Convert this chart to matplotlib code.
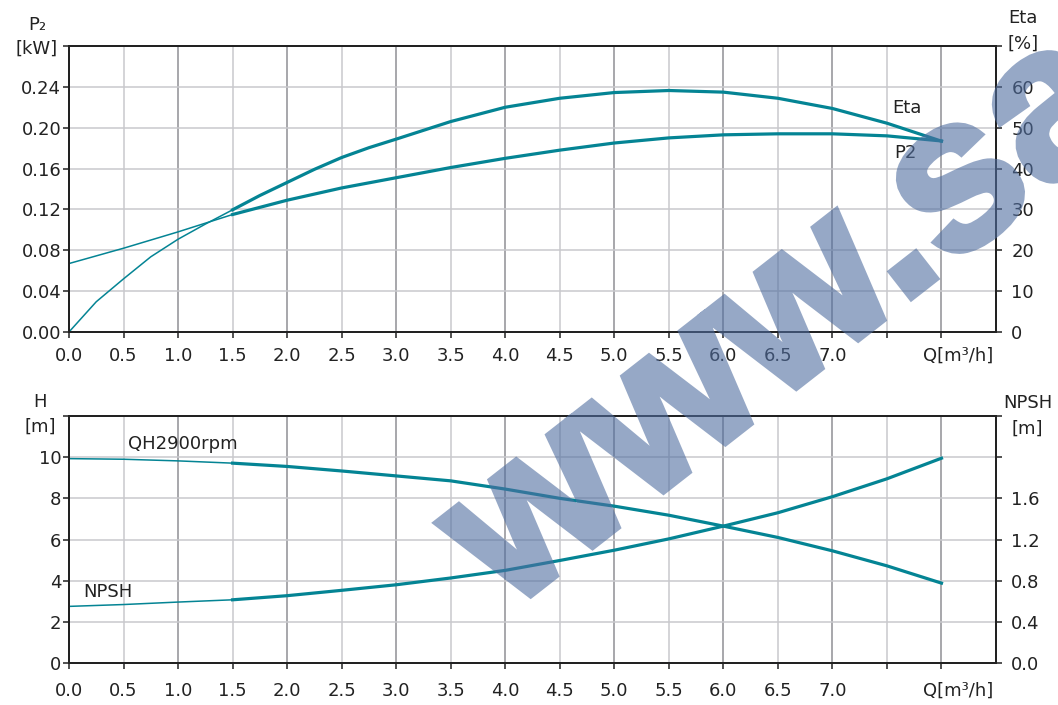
import numpy as np
import matplotlib.pyplot as plt
import matplotlib.patheffects as pe
import matplotlib.transforms as mtrans

plt.rcParams['font.family'] = ['DejaVu Sans']

# flow rate Q [m3/h]
q = [0.0, 0.5, 1.0, 1.5, 2.0, 2.5, 3.0, 3.5, 4.0, 4.5, 5.0, 5.5, 6.0, 6.5, 7.0, 7.5, 8.0]
# power P2 [kW]
p2 = [0.067, 0.082, 0.098, 0.115, 0.129, 0.141, 0.151, 0.161, 0.170, 0.178, 0.185, 0.190, 0.193, 0.194, 0.194, 0.192, 0.187]
# efficiency [%]
q_eta = [0.0, 0.25, 0.5, 0.75, 1.0, 1.25, 1.5, 1.75, 2.0, 2.25, 2.5, 2.75, 3.0, 3.5, 4.0, 4.5, 5.0, 5.5, 6.0, 6.5, 7.0, 7.5, 8.0]
eta = [0.0, 7.4, 13.0, 18.4, 22.7, 26.4, 29.9, 33.4, 36.6, 39.8, 42.7, 45.1, 47.2, 51.5, 55.0, 57.2, 58.6, 59.1, 58.7, 57.2, 54.7, 51.1, 46.7]
# head H [m]
head = [9.93, 9.90, 9.82, 9.71, 9.55, 9.33, 9.09, 8.85, 8.45, 8.00, 7.62, 7.18, 6.65, 6.10, 5.45, 4.72, 3.88]
# NPSH [m]
npsh = [0.550, 0.568, 0.592, 0.614, 0.654, 0.706, 0.760, 0.826, 0.900, 0.996, 1.096, 1.206, 1.330, 1.460, 1.616, 1.790, 1.990]

x_ticks = np.arange(0, 8.01, 0.5)
x_labels = ['%.1f' % v for v in x_ticks[:15]] + ['', 'Q[m³/h]']

teal = '#048494'
light = '#c9c9cd'
dark = '#8f8f95'
ink = '#222222'
fs = 13

fig = plt.figure(figsize=(10.58, 7.05), dpi=100)
ax1 = fig.add_axes([0.0652, 0.5291, 0.8762, 0.4057])
ax2 = fig.add_axes([0.0652, 0.0596, 0.8762, 0.3503])


def base(ax, ymax, yticks, ylabels, xpad):
    ax.set_xlim(0, 8.5)
    ax.set_ylim(0, ymax)
    ax.set_xticks(x_ticks)
    ax.set_xticklabels(x_labels)
    ax.set_yticks(yticks)
    ax.set_yticklabels(ylabels)
    for v in x_ticks[1:]:
        ax.axvline(v, color=dark if v % 1 == 0 else light, lw=1.1, zorder=0)
    for v in yticks[1:-1]:
        ax.axhline(v, color=light, lw=1.1, zorder=0)
    ax.tick_params(axis='x', direction='out', length=4, width=1.1, color=ink,
                   labelsize=fs, labelcolor=ink, pad=xpad)
    ax.tick_params(axis='y', direction='out', length=4.5, width=1.1, color=ink,
                   labelsize=fs, labelcolor=ink, pad=1)
    for s in ax.spines.values():
        s.set_color(ink)
        s.set_linewidth(1.4)
    # the Q unit label sits a little right of its tick
    lab = ax.xaxis.get_major_ticks()[-1].label1
    lab.set_transform(lab.get_transform() + mtrans.ScaledTranslation(0.17, 0, fig.dpi_scale_trans))


def right_axis(ax, ymax, yticks, ylabels):
    r = ax.twinx()
    r.set_ylim(0, ymax)
    r.set_yticks(yticks)
    r.set_yticklabels(ylabels)
    r.tick_params(axis='y', direction='out', length=4.5, width=1.1, color=ink,
                  labelsize=fs, labelcolor=ink, pad=6.5)
    for s in r.spines.values():
        s.set_color(ink)
        s.set_linewidth(1.4)
    return r


# ---- top panel: P2 / Eta ----
base(ax1, 0.28, np.arange(0, 0.281, 0.04),
     ['%.2f' % v for v in np.arange(0, 0.241, 0.04)] + [''], 6.5)
ax1.plot(q[:4], p2[:4], color=teal, lw=1.1)
ax1.plot(q[3:], p2[3:], color=teal, lw=2.3)

ax1r = right_axis(ax1, 70, np.arange(0, 71, 10),
                  [str(v) for v in range(0, 61, 10)] + [''])
ax1r.plot(q_eta[:7], eta[:7], color=teal, lw=1.1)
ax1r.plot(q_eta[6:], eta[6:], color=teal, lw=2.3)

ax1.text(7.55, 0.2195, 'Eta', fontsize=fs, color=ink, va='center')
ax1.text(7.57, 0.175, 'P2', fontsize=fs, color=ink, va='center')
ax1.text(-0.0345, 1.073, 'P₂', transform=ax1.transAxes, fontsize=fs, color=ink, ha='center', va='center')
ax1.text(-0.0345, 0.99, '[kW]', transform=ax1.transAxes, fontsize=fs, color=ink, ha='center', va='center')
ax1.text(1.029, 1.098, 'Eta', transform=ax1.transAxes, fontsize=fs, color=ink, ha='center', va='center')
ax1.text(1.029, 1.007, '[%]', transform=ax1.transAxes, fontsize=fs, color=ink, ha='center', va='center')

# ---- bottom panel: H / NPSH ----
base(ax2, 12, np.arange(0, 12.1, 2),
     [str(v) for v in range(0, 11, 2)] + [''], 9.5)
ax2.plot(q[:4], head[:4], color=teal, lw=1.1)
ax2.plot(q[3:], head[3:], color=teal, lw=2.3)

ax2r = right_axis(ax2, 2.4, np.arange(0, 2.41, 0.4),
                  ['%.1f' % v for v in np.arange(0, 1.61, 0.4)] + ['', ''])
ax2r.plot(q[:4], npsh[:4], color=teal, lw=1.1)
ax2r.plot(q[3:], npsh[3:], color=teal, lw=2.3)

ax2.text(0.54, 10.63, 'QH2900rpm', fontsize=fs, color=ink, va='center')
ax2.text(0.13, 3.43, 'NPSH', fontsize=fs, color=ink, va='center')
ax2.text(-0.031, 1.058, 'H', transform=ax2.transAxes, fontsize=fs, color=ink, ha='center', va='center')
ax2.text(-0.031, 0.955, '[m]', transform=ax2.transAxes, fontsize=fs, color=ink, ha='center', va='center')
ax2.text(1.034, 1.053, 'NPSH', transform=ax2.transAxes, fontsize=fs, color=ink, ha='center', va='center')
ax2.text(1.034, 0.947, '[m]', transform=ax2.transAxes, fontsize=fs, color=ink, ha='center', va='center')


# watermark: drawn opaque with a fattening stroke, then faded as one layer
def fade(img, dpi):
    img = img.copy()
    img[..., 3] *= 0.6
    return img, 0, 0


wm = fig.text(0.4800, 0.1310, 'www.sa', rotation=38, rotation_mode='anchor',
              ha='left', va='baseline', fontsize=156, fontweight='bold',
              family='Liberation Sans', color='#506ea0', zorder=10)
wm.set_path_effects([pe.Stroke(linewidth=5, foreground='#506ea0', joinstyle='miter'),
                     pe.Normal()])
wm.set_agg_filter(fade)

fig.savefig('out.png', dpi=100)
